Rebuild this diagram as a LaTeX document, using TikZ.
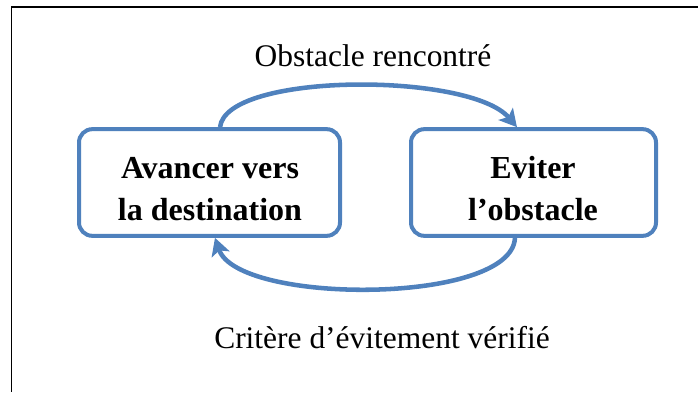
\documentclass[tikz,border=0pt]{standalone}
\usepackage{fontspec}
\setmainfont[Ligatures=NoCommon]{Liberation Serif}
\usetikzlibrary{arrows.meta}
\definecolor{flowblue}{HTML}{4F81BD}
\tikzset{
  statebox/.style={draw=flowblue, line width=3pt, rounded corners=10pt,
    fill=white, minimum height=80pt, inner sep=0pt},
  statetext/.style={font=\fontsize{24}{31.5}\selectfont\bfseries, align=center, inner sep=0pt},
  edgetext/.style={font=\fontsize{23.6}{29}\selectfont, anchor=base, inner sep=0pt},
  transition/.style={draw=flowblue, line width=3.4pt,
    -{Stealth[length=13pt, width=14pt, inset=3pt]}},
  frameline/.style={draw=black, line width=1.1pt}
}
\begin{document}
\begin{tikzpicture}[x=0.75pt, y=-0.75pt]
  \useasboundingbox (0,0) rectangle (698,392);
  % outer frame (top and left edges)
  \draw[frameline] (698,7) -- (11.5,7) -- (11.5,392);

  % the two states
  \node[statebox, minimum width=195.75pt] (advance) at (209.5,182.5) {};
  \node[statebox, minimum width=183.75pt] (avoid) at (533.5,182.5) {};
  \node[statetext] (advancetxt) at (210,189) {Avancer vers\\la destination};
  \node[statetext] (avoidtxt) at (533,189) {Eviter\\l’obstacle};

  % transition anchors on the box borders
  \coordinate (a1) at ([xshift=7.9pt]advance.north);
  \coordinate (b1) at ([xshift=-12.4pt]avoid.north);
  \coordinate (b2) at ([xshift=-13.9pt]avoid.south);
  \coordinate (a2) at ([xshift=4.1pt]advance.south);

  \draw[transition] (a1) .. controls (226,72) and (470,72) .. (b1);
  \draw[transition] (b2) .. controls (512,305) and (238,305) .. (a2);

  % transition labels
  \node[edgetext] (lblobst) at (373,67) {Obstacle rencontré};
  \node[edgetext] (lblcrit) at (382,348) {Critère d’évitement vérifié};
\end{tikzpicture}
\end{document}
